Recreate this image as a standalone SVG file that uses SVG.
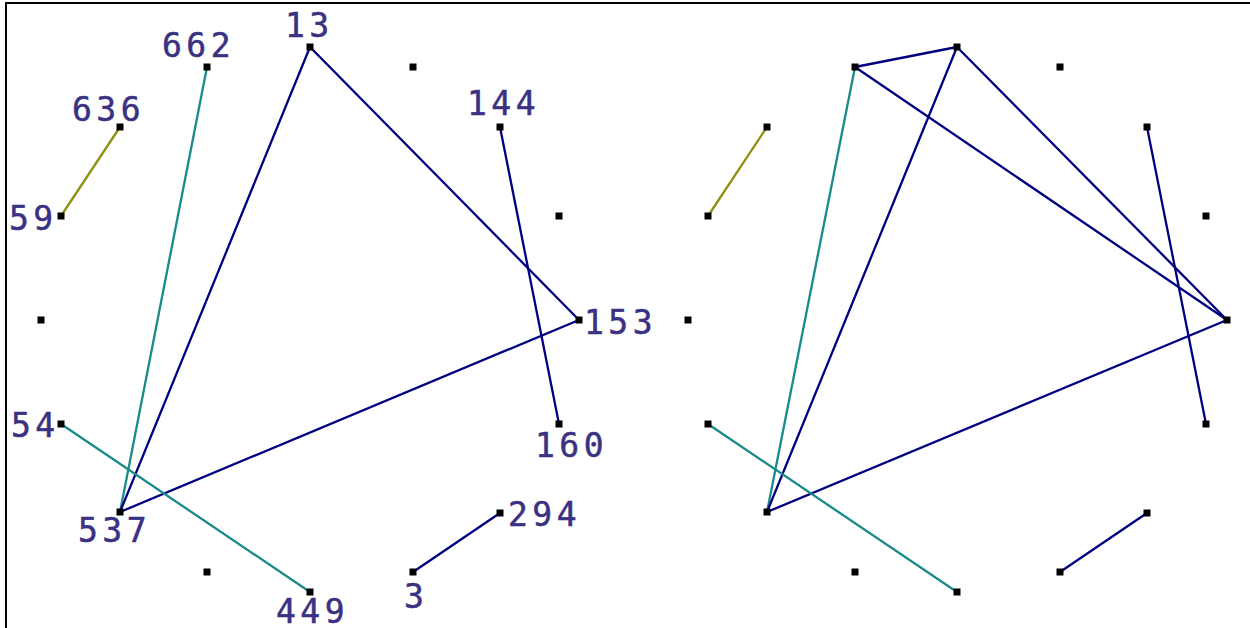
<svg xmlns="http://www.w3.org/2000/svg" width="1250" height="628" viewBox="0 0 1250 628">
<style>
.bg{fill:#ffffff}
.frame{stroke:#000;stroke-width:2;fill:none}
.nd{fill:#000}
.e{stroke-width:2.3;fill:none;stroke-linecap:round}
.navy{stroke:#000080}
.teal{stroke:#1a8a8a}
.olive{stroke:#8f8f10}
.lbl{font-family:"DejaVu Sans Mono","Liberation Mono",monospace;font-size:33px;fill:#3a3182;stroke:#3a3182;stroke-width:0.5;letter-spacing:4.5px}
</style>
<rect class="bg" x="0" y="0" width="1250" height="628"/>
<path class="frame" d="M6,628 V3 H1250"/>
<g id="connectors">
<line class="e olive" x1="120" y1="127" x2="61" y2="216"/>
<line class="e teal" x1="207" y1="67" x2="120" y2="512"/>
<line class="e navy" x1="310" y1="47" x2="120" y2="512"/>
<line class="e navy" x1="310" y1="47" x2="579" y2="320"/>
<line class="e navy" x1="120" y1="512" x2="579" y2="320"/>
<line class="e navy" x1="500" y1="127" x2="559" y2="424"/>
<line class="e teal" x1="61" y1="424" x2="310" y2="592"/>
<line class="e navy" x1="413" y1="572" x2="500" y2="513"/>
<line class="e olive" x1="767" y1="127" x2="708" y2="216"/>
<line class="e teal" x1="855" y1="67" x2="767" y2="512"/>
<line class="e navy" x1="855" y1="67" x2="957" y2="47"/>
<line class="e navy" x1="855" y1="67" x2="1227" y2="320"/>
<line class="e navy" x1="957" y1="47" x2="767" y2="512"/>
<line class="e navy" x1="957" y1="47" x2="1227" y2="320"/>
<line class="e navy" x1="767" y1="512" x2="1227" y2="320"/>
<line class="e navy" x1="1147" y1="127" x2="1206" y2="424"/>
<line class="e teal" x1="708" y1="424" x2="957" y2="592"/>
<line class="e navy" x1="1060" y1="572" x2="1147" y2="513"/>
</g>
<g id="left-13"><rect class="nd" x="306.5" y="43.5" width="7" height="7"/><text class="lbl" x="285" y="37">13</text></g>
<g id="left-662"><rect class="nd" x="203.5" y="63.5" width="7" height="7"/><text class="lbl" x="162" y="57">662</text></g>
<g id="left-636"><rect class="nd" x="116.5" y="123.5" width="7" height="7"/><text class="lbl" x="72" y="121">636</text></g>
<g id="left-59"><rect class="nd" x="57.5" y="212.5" width="7" height="7"/><text class="lbl" x="9" y="230">59</text></g>
<g id="left-n413"><rect class="nd" x="409.5" y="63.5" width="7" height="7"/></g>
<g id="left-144"><rect class="nd" x="496.5" y="123.5" width="7" height="7"/><text class="lbl" x="467" y="115">144</text></g>
<g id="left-n559"><rect class="nd" x="555.5" y="212.5" width="7" height="7"/></g>
<g id="left-153"><rect class="nd" x="575.5" y="316.5" width="7" height="7"/><text class="lbl" x="584" y="334">153</text></g>
<g id="left-n41"><rect class="nd" x="37.5" y="316.5" width="7" height="7"/></g>
<g id="left-54"><rect class="nd" x="57.5" y="420.5" width="7" height="7"/><text class="lbl" x="11" y="437">54</text></g>
<g id="left-160"><rect class="nd" x="555.5" y="420.5" width="7" height="7"/><text class="lbl" x="535" y="457">160</text></g>
<g id="left-537"><rect class="nd" x="116.5" y="508.5" width="7" height="7"/><text class="lbl" x="78" y="542">537</text></g>
<g id="left-294"><rect class="nd" x="496.5" y="509.5" width="7" height="7"/><text class="lbl" x="508" y="526">294</text></g>
<g id="left-n207"><rect class="nd" x="203.5" y="568.5" width="7" height="7"/></g>
<g id="left-3"><rect class="nd" x="409.5" y="568.5" width="7" height="7"/><text class="lbl" x="404" y="608">3</text></g>
<g id="left-449"><rect class="nd" x="306.5" y="588.5" width="7" height="7"/><text class="lbl" x="276" y="623">449</text></g>
<g id="right-13"><rect class="nd" x="953.5" y="43.5" width="7" height="7"/></g>
<g id="right-662"><rect class="nd" x="851.5" y="63.5" width="7" height="7"/></g>
<g id="right-636"><rect class="nd" x="763.5" y="123.5" width="7" height="7"/></g>
<g id="right-59"><rect class="nd" x="704.5" y="212.5" width="7" height="7"/></g>
<g id="right-n1060"><rect class="nd" x="1056.5" y="63.5" width="7" height="7"/></g>
<g id="right-144"><rect class="nd" x="1143.5" y="123.5" width="7" height="7"/></g>
<g id="right-n1206"><rect class="nd" x="1202.5" y="212.5" width="7" height="7"/></g>
<g id="right-153"><rect class="nd" x="1223.5" y="316.5" width="7" height="7"/></g>
<g id="right-n688"><rect class="nd" x="684.5" y="316.5" width="7" height="7"/></g>
<g id="right-54"><rect class="nd" x="704.5" y="420.5" width="7" height="7"/></g>
<g id="right-160"><rect class="nd" x="1202.5" y="420.5" width="7" height="7"/></g>
<g id="right-537"><rect class="nd" x="763.5" y="508.5" width="7" height="7"/></g>
<g id="right-294"><rect class="nd" x="1143.5" y="509.5" width="7" height="7"/></g>
<g id="right-n855"><rect class="nd" x="851.5" y="568.5" width="7" height="7"/></g>
<g id="right-3"><rect class="nd" x="1056.5" y="568.5" width="7" height="7"/></g>
<g id="right-449"><rect class="nd" x="953.5" y="588.5" width="7" height="7"/></g>
</svg>
